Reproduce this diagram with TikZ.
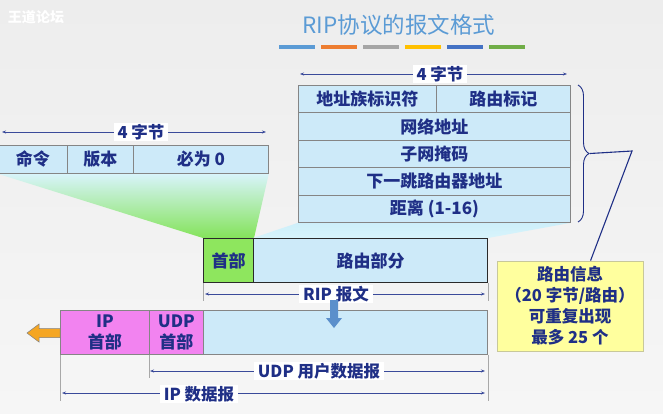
\documentclass[tikz,border=0pt]{standalone}
\usepackage{fontspec}
\setmainfont{Noto Sans CJK SC}
\usetikzlibrary{arrows.meta,decorations.pathreplacing,calc}
\definecolor{navy}{HTML}{1F2F86}
\definecolor{dimblue}{HTML}{3A4A9A}
\definecolor{cellblue}{HTML}{CDEAF9}
\definecolor{cellline}{HTML}{858585}
\definecolor{boxline}{HTML}{2A2A2A}
\definecolor{hdrgreen}{HTML}{8EE65E}
\definecolor{pinkbox}{HTML}{F283F0}
\definecolor{yellowbox}{HTML}{FFFF9E}
\definecolor{yellowline}{HTML}{C8C89A}
\definecolor{titleblue}{HTML}{5B9BD5}
\definecolor{bgtop}{HTML}{EDEDED}
\definecolor{bgbot}{HTML}{F6F6F6}
\definecolor{funtop}{HTML}{D8F4FB}
\definecolor{fungreen}{HTML}{84E35A}
\definecolor{funcyan}{HTML}{CDEFFA}
\definecolor{arrowblue}{HTML}{5B8FCB}
\definecolor{arroworange}{HTML}{F5A623}
\definecolor{tickgray}{HTML}{A8A8A8}
\definecolor{barA}{HTML}{5B9BD5}
\definecolor{barB}{HTML}{ED7D31}
\definecolor{barC}{HTML}{A5A5A5}
\definecolor{barD}{HTML}{FFC000}
\definecolor{barE}{HTML}{4472C4}
\definecolor{barF}{HTML}{70AD47}
\pgfdeclarelayer{bg}
\pgfdeclarelayer{funnel}
\pgfsetlayers{bg,funnel,main}
\newcommand{\cellfont}{\bfseries\fontsize{17}{20}\selectfont}
\newcommand{\dimfont}{\bfseries\fontsize{16.5}{19}\selectfont}
\tikzset{
  cell/.style={draw=cellline, line width=0.8pt, fill=cellblue, text=navy, font=\cellfont, inner sep=0pt, anchor=north west},
  ripbox/.style={draw=boxline, line width=1pt, text=navy, font=\cellfont, inner sep=0pt, anchor=north west, minimum height=44pt},
  udpbox/.style={draw=cellline, line width=0.8pt, text=navy, font=\bfseries\fontsize{17}{21}\selectfont, inner sep=0pt, anchor=north west, minimum height=44pt, align=center},
  dimline/.style={{Stealth[length=4pt,width=3pt]}-{Stealth[length=4pt,width=3pt]}, draw=dimblue, line width=0.7pt},
  dimlabel/.style={fill=white, text=navy, font=\dimfont, inner xsep=4pt, inner ysep=1pt},
  tick/.style={draw=tickgray, line width=0.6pt},
  lead/.style={draw=navy, line width=1.1pt}
}
\begin{document}
\begin{tikzpicture}[x=1pt,y=-1pt]
\useasboundingbox (0,0) rectangle (663,413);
\begin{pgfonlayer}{bg}
\shade[top color=bgtop, bottom color=bgbot] (0,0) rectangle (663,413);
\end{pgfonlayer}

% watermark and title
\node[text=white, font=\bfseries\fontsize{14}{16}\selectfont] (wm) at (36,17) {王道论坛};
\node[text=titleblue, font=\fontsize{22.5}{26}\selectfont] (title) at (399,25) {RIP协议的报文格式};
\fill[barA] (279,45) rectangle (315,49);
\fill[barB] (321,45) rectangle (357,49);
\fill[barC] (363,45) rectangle (399,49);
\fill[barD] (405,45) rectangle (441,49);
\fill[barE] (447,45) rectangle (483,49);
\fill[barF] (489,45) rectangle (525,49);

% right table (routing entry)
\node[cell, minimum width=138pt, minimum height=27.4pt] (afi) at (298,85) {地址族标识符};
\node[cell, minimum width=134pt, minimum height=27.4pt] (rtag) at (436,85) {路由标记};
\node[cell, minimum width=272pt, minimum height=27.4pt] (net) at (298,112.4) {网络地址};
\node[cell, minimum width=272pt, minimum height=27.4pt] (mask) at (298,139.8) {子网掩码};
\node[cell, minimum width=272pt, minimum height=27.4pt] (nexthop) at (298,167.2) {下一跳路由器地址};
\node[cell, minimum width=272pt, minimum height=27.4pt] (metric) at (298,194.6) {距离 (1-16)};
\coordinate (rdl) at (300,74);
\coordinate (rdr) at (567,74);
\draw[dimline] (rdl) -- (rdr);
\node[dimlabel] (rdlab) at (440,74) {4 字节};

% left table (header)
\node[cell, minimum width=69pt, minimum height=28pt] (cmd) at (-2,145) {命令};
\node[cell, minimum width=66pt, minimum height=28pt] (ver) at (67,145) {版本};
\node[cell, minimum width=135pt, minimum height=28pt] (zero) at (133,145) {必为 0};
\coordinate (ldl) at (2,132);
\coordinate (ldr) at (266,132);
\draw[dimline] (ldl) -- (ldr);
\node[dimlabel] (ldlab) at (141,132) {4 字节};

% RIP message
\node[ripbox, fill=hdrgreen, minimum width=50pt] (hdr) at (203,238) {首部};
\node[ripbox, fill=cellblue, minimum width=234pt] (route) at (253,238) {路由部分};

% funnels
\begin{pgfonlayer}{funnel}
\shade[top color=funtop, bottom color=fungreen] (cmd.south west) -- (zero.south east) -- (hdr.north east) -- (hdr.north west) -- cycle;
\shade[top color=funcyan, bottom color=funtop] (metric.south west) -- (metric.south east) -- (route.north east) -- (route.north west) -- cycle;
\end{pgfonlayer}

\draw[tick] (hdr.south west) -- ++(0,18);
\draw[tick] (route.south east) -- ++(0,18);
\coordinate (ripl) at (205,294);
\coordinate (ripr) at (485,294);
\draw[dimline] (ripl) -- (ripr);
\node[dimlabel] (riplab) at (336,294) {RIP 报文};

% UDP / IP datagram
\node[udpbox, fill=pinkbox, minimum width=89pt] (iph) at (60,310) {IP\\首部};
\node[udpbox, fill=pinkbox, minimum width=54pt] (udph) at (149,310) {UDP\\首部};
\node[udpbox, fill=cellblue, minimum width=284pt] (data) at (203,310) {};

% blue down arrow
\fill[arrowblue] (330,300) -- (338,300) -- (338,318) -- (342,318) -- (334,328) -- (326,318) -- (330,318) -- cycle;

% orange arrow
\filldraw[fill=arroworange, draw=gray, line width=0.5pt] (60,328.5) -- (39,328.5) -- (39,324) -- (27,333) -- (39,342) -- (39,337.5) -- (60,337.5) -- cycle;

\draw[tick] (iph.south west) -- ++(0,46);
\draw[tick] (udph.south west) -- ++(0,23);
\draw[tick] (data.south east) -- ++(0,46);
\coordinate (udpl) at (150,371);
\coordinate (udpr) at (485,371);
\draw[dimline] (udpl) -- (udpr);
\node[dimlabel] (udplab) at (319,371) {UDP 用户数据报};
\coordinate (ipl) at (62,393);
\coordinate (ipr) at (485,393);
\draw[dimline] (ipl) -- (ipr);
\node[dimlabel] (iplab) at (199,394) {IP 数据报};

% routing info note
\node[draw=yellowline, line width=0.8pt, fill=yellowbox, text=navy, font=\bfseries\fontsize{16.5}{21}\selectfont, align=center, minimum width=146pt, minimum height=90pt, inner sep=0pt] (info) at (570,306) {路由信息\\（20 字节/路由）\\可重复出现\\最多 25 个};

% brace and leader
\draw[decorate, decoration={brace, amplitude=11pt}, draw=navy, line width=0.9pt] (578,85) -- (578,222);
\coordinate (btip) at (590,153.5);
\coordinate (bend) at (632,151);
\path (info.north west) -- (info.north east) coordinate[pos=0.64] (infoin);
\draw[lead] (btip) -- (bend) -- (infoin);
\end{tikzpicture}
\end{document}
